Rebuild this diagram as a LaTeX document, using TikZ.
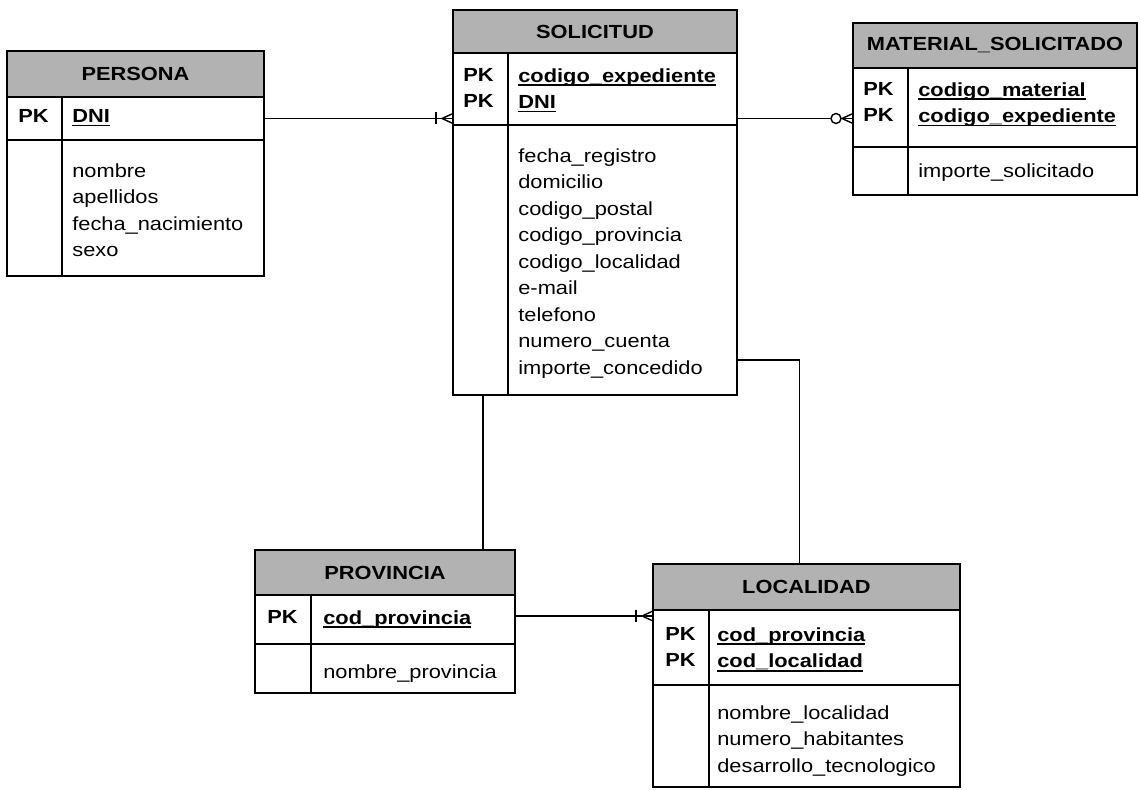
\documentclass[tikz,border=0pt]{standalone}
\usepackage{fontspec}
\setmainfont{Liberation Sans}[FakeStretch=1.15]
\usetikzlibrary{positioning}

\newcommand{\tabfont}{\fontsize{10.8}{15.1}\selectfont}
\newcommand{\keyfield}[1]{\setbox0\hbox{\bfseries #1}\rlap{\rule[-2.2pt]{\wd0}{1pt}}\box0}

\tikzset{
  tablehead/.style={shape=rectangle,draw,line width=1.1pt,fill=gray!60,outer sep=0pt,anchor=north west,font=\tabfont\bfseries},
  tablepart/.style={shape=rectangle,draw,line width=1.1pt,outer sep=0pt,anchor=north west},
  fieldtext/.style={anchor=north west,inner sep=0pt,align=left,font=\tabfont},
  keytext/.style={fieldtext,font=\tabfont\bfseries},
  link/.style={line width=0.8pt}
}

\begin{document}
\begin{tikzpicture}[x=0.02cm,y=-0.02cm]
\useasboundingbox (0,0) rectangle (1140,789);

% PERSONA
\node (perhead) [tablehead,minimum width=5.14cm,minimum height=0.92cm] at (7,51) {PERSONA};
\node (perpk) [tablepart,minimum width=5.14cm,minimum height=0.86cm] at (perhead.south west) {};
\node (perat) [tablepart,minimum width=5.14cm,minimum height=2.72cm] at (perpk.south west) {};
\draw[line width=1.1pt] ([xshift=1.1cm]perpk.north west) -- ([xshift=1.1cm]perat.south west);
\draw (perpk.north west) ++(11,12) node (perpkl) [keytext] {PK};
\draw (perpk.north west) ++(65,12) node (perkeys) [fieldtext] {\keyfield{DNI}};
\draw (perat.north west) ++(65,23) node (perfields) [fieldtext] {nombre\\apellidos\\fecha\_nacimiento\\sexo};

% SOLICITUD
\node (solhead) [tablehead,minimum width=5.68cm,minimum height=0.86cm] at (453,10) {SOLICITUD};
\node (solpk) [tablepart,minimum width=5.68cm,minimum height=1.44cm] at (solhead.south west) {};
\node (solat) [tablepart,minimum width=5.68cm,minimum height=5.4cm] at (solpk.south west) {};
\draw[line width=1.1pt] ([xshift=1.1cm]solpk.north west) -- ([xshift=1.1cm]solat.south west);
\draw (solpk.north west) ++(10,15) node (solpkl) [keytext] {PK\\PK};
\draw (solpk.north west) ++(65,15) node (solkeys) [fieldtext] {\keyfield{codigo\_expediente}\\\keyfield{DNI}};
\draw (solat.north west) ++(65,23) node (solfields) [fieldtext] {fecha\_registro\\domicilio\\codigo\_postal\\codigo\_provincia\\codigo\_localidad\\e-mail\\telefono\\numero\_cuenta\\importe\_concedido};

% MATERIAL_SOLICITADO
\node (mathead) [tablehead,minimum width=5.68cm,minimum height=0.9cm] at (853,23) {MATERIAL\_SOLICITADO};
\node (matpk) [tablepart,minimum width=5.68cm,minimum height=1.58cm] at (mathead.south west) {};
\node (matat) [tablepart,minimum width=5.68cm,minimum height=0.96cm] at (matpk.south west) {};
\draw[line width=1.1pt] ([xshift=1.1cm]matpk.north west) -- ([xshift=1.1cm]matat.south west);
\draw (matpk.north west) ++(10,14) node (matpkl) [keytext] {PK\\PK};
\draw (matpk.north west) ++(65,14) node (matkeys) [fieldtext] {\keyfield{codigo\_material}\\\keyfield{codigo\_expediente}};
\draw (matat.north west) ++(65,16) node (matfields) [fieldtext] {importe\_solicitado};

% PROVINCIA
\node (provhead) [tablehead,minimum width=5.2cm,minimum height=0.9cm] at (255,550) {PROVINCIA};
\node (provpk) [tablepart,minimum width=5.2cm,minimum height=0.98cm] at (provhead.south west) {};
\node (provat) [tablepart,minimum width=5.2cm,minimum height=0.98cm] at (provpk.south west) {};
\draw[line width=1.1pt] ([xshift=1.12cm]provpk.north west) -- ([xshift=1.12cm]provat.south west);
\draw (provpk.north west) ++(12,15) node (provpkl) [keytext] {PK};
\draw (provpk.north west) ++(68,15) node (provkeys) [fieldtext] {\keyfield{cod\_provincia}};
\draw (provat.north west) ++(68,20) node (provfields) [fieldtext] {nombre\_provincia};

% LOCALIDAD
\node (lochead) [tablehead,minimum width=6.14cm,minimum height=0.92cm] at (653,564) {LOCALIDAD};
\node (locpk) [tablepart,minimum width=6.14cm,minimum height=1.5cm] at (lochead.south west) {};
\node (locat) [tablepart,minimum width=6.14cm,minimum height=2.04cm] at (locpk.south west) {};
\draw[line width=1.1pt] ([xshift=1.12cm]locpk.north west) -- ([xshift=1.12cm]locat.south west);
\draw (locpk.north west) ++(12,17) node (locpkl) [keytext] {PK\\PK};
\draw (locpk.north west) ++(64,17) node (lockeys) [fieldtext] {\keyfield{cod\_provincia}\\\keyfield{cod\_localidad}};
\draw (locat.north west) ++(64,20) node (locfields) [fieldtext] {nombre\_localidad\\numero\_habitantes\\desarrollo\_tecnologico};

% relaciones
\draw[link] (perpk.east) -- (perpk.east -| solpk.west);
\draw[link] (perpk.east -| solpk.west) ++(0,-5) -- ++(-11,5) -- ++(11,5);
\draw[link] (perpk.east -| solpk.west) ++(-17,-6) -- ++(0,12);

\draw[link] (perpk.east -| solpk.east) -- (perpk.east -| matpk.west);
\draw[link] (perpk.east -| matpk.west) ++(0,-5) -- ++(-11,5) -- ++(11,5);
\draw[link,fill=white] (perpk.east -| matpk.west) ++(-17,0) circle[radius=0.1cm];

\draw[link] ([xshift=0.6cm]solat.south west) -- ([xshift=0.6cm]solat.south west |- provhead.north);
\draw[link] ([yshift=0.7cm]solat.south east) -| ([xshift=-0.14cm]lochead.north);

\draw[link] ([yshift=0.07cm]provpk.east) -- ([yshift=0.07cm]provpk.east -| locpk.west);
\draw[link] ([yshift=0.07cm]provpk.east -| locpk.west) ++(0,-5) -- ++(-11,5) -- ++(11,5);
\draw[link] ([yshift=0.07cm]provpk.east -| locpk.west) ++(-17,-6) -- ++(0,12);
\end{tikzpicture}
\end{document}
